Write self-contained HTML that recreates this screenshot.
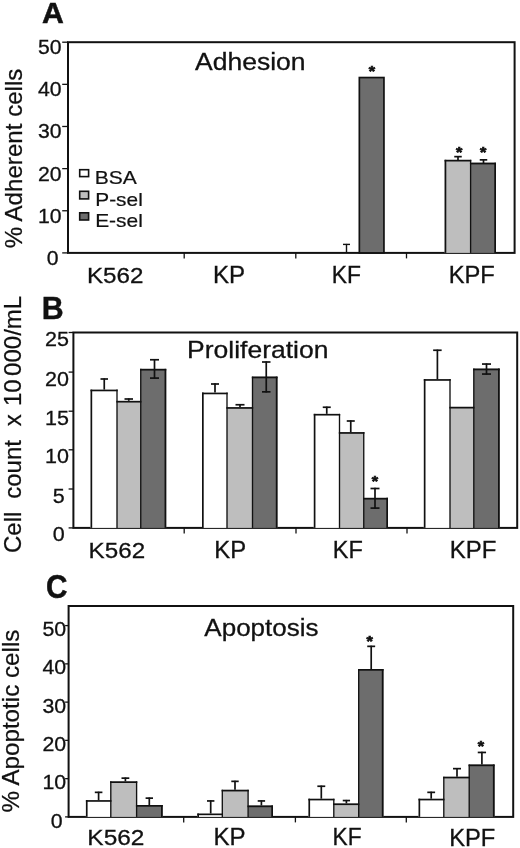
<!DOCTYPE html>
<html><head><meta charset="utf-8"><title>Figure</title>
<style>
html,body{margin:0;padding:0;background:#fff;}
svg{display:block;font-family:'Liberation Sans', sans-serif;}
svg text{fill:#111;stroke:#111;}
</style></head>
<body>
<svg width="520" height="848" viewBox="0 0 520 848">
<rect width="520" height="848" fill="#ffffff"/>
<text transform="translate(42.00,22.65) scale(0.995,1)" font-size="30.40" font-weight="bold" stroke-width="0.5">A</text>
<rect x="68.0" y="42.2" width="446.60" height="210.70" fill="none" stroke="#111" stroke-width="2.0"/>
<line x1="62.20" y1="42.20" x2="68.00" y2="42.20" stroke="#111" stroke-width="1.3"/>
<text transform="translate(61.50,54.20) scale(1.045,1)" font-size="20.30" text-anchor="end" stroke-width="0.3">50</text>
<line x1="62.20" y1="84.34" x2="68.00" y2="84.34" stroke="#111" stroke-width="1.3"/>
<text transform="translate(61.50,96.34) scale(1.045,1)" font-size="20.30" text-anchor="end" stroke-width="0.3">40</text>
<line x1="62.20" y1="126.48" x2="68.00" y2="126.48" stroke="#111" stroke-width="1.3"/>
<text transform="translate(61.50,138.48) scale(1.045,1)" font-size="20.30" text-anchor="end" stroke-width="0.3">30</text>
<line x1="62.20" y1="168.62" x2="68.00" y2="168.62" stroke="#111" stroke-width="1.3"/>
<text transform="translate(61.50,180.62) scale(1.045,1)" font-size="20.30" text-anchor="end" stroke-width="0.3">20</text>
<line x1="62.20" y1="210.76" x2="68.00" y2="210.76" stroke="#111" stroke-width="1.3"/>
<text transform="translate(61.50,222.76) scale(1.045,1)" font-size="20.30" text-anchor="end" stroke-width="0.3">10</text>
<line x1="62.20" y1="252.90" x2="68.00" y2="252.90" stroke="#111" stroke-width="1.3"/>
<text transform="translate(58.60,264.90) scale(1.045,1)" font-size="20.30" text-anchor="end" stroke-width="0.3">0</text>
<line x1="184.20" y1="252.90" x2="184.20" y2="258.40" stroke="#111" stroke-width="1.3"/>
<line x1="295.80" y1="252.90" x2="295.80" y2="258.40" stroke="#111" stroke-width="1.3"/>
<line x1="406.50" y1="252.90" x2="406.50" y2="258.40" stroke="#111" stroke-width="1.3"/>
<text transform="translate(22.15,248.30) scale(1.000,1) rotate(-90)" font-size="24.14" stroke-width="0.25">% Adherent cells</text>
<text transform="translate(195.10,70.40) scale(1.133,1)" font-size="23.39" stroke-width="0.3">Adhesion</text>
<text transform="translate(86.90,283.40) scale(1.060,1)" font-size="22.83" stroke-width="0.3">K562</text>
<text transform="translate(212.97,283.40) scale(1.017,1)" font-size="23.68" stroke-width="0.3">KP</text>
<text transform="translate(331.73,283.40) scale(0.965,1)" font-size="23.68" stroke-width="0.3">KF</text>
<text transform="translate(448.73,283.40) scale(1.002,1)" font-size="23.68" stroke-width="0.3">KPF</text>
<rect x="79.70" y="169.70" width="8.90" height="6.90" fill="#ffffff" stroke="#111" stroke-width="1.6"/>
<rect x="79.70" y="191.30" width="8.90" height="7.60" fill="#bebebe" stroke="#111" stroke-width="1.6"/>
<rect x="79.70" y="212.80" width="8.90" height="7.20" fill="#6d6d6d" stroke="#111" stroke-width="1.6"/>
<text transform="translate(94.65,183.75) scale(1.152,1)" font-size="18.28" stroke-width="0.2">BSA</text>
<text transform="translate(95.28,205.65) scale(1.174,1)" font-size="17.76" stroke-width="0.2">P-sel</text>
<text transform="translate(95.15,227.35) scale(1.135,1)" font-size="18.46" stroke-width="0.2">E-sel</text>
<rect x="359.35" y="77.55" width="24.60" height="175.35" fill="#6d6d6d" stroke="#111" stroke-width="1.7"/>
<text transform="translate(372.00,76.40) scale(1.050,1)" font-size="15.50" text-anchor="middle" font-weight="bold" stroke-width="0.7">*</text>
<line x1="346.50" y1="243.90" x2="346.50" y2="252.90" stroke="#111" stroke-width="1.4"/>
<line x1="343.00" y1="244.40" x2="350.00" y2="244.40" stroke="#111" stroke-width="1.4"/>
<rect x="444.60" y="159.80" width="26.00" height="93.10" fill="#bebebe"/>
<rect x="470.60" y="162.70" width="25.40" height="90.20" fill="#6d6d6d"/>
<line x1="445.45" y1="159.80" x2="445.45" y2="252.90" stroke="#111" stroke-width="1.7"/>
<line x1="495.15" y1="162.70" x2="495.15" y2="252.90" stroke="#111" stroke-width="1.7"/>
<line x1="470.60" y1="159.80" x2="470.60" y2="252.90" stroke="#111" stroke-width="1.35"/>
<line x1="444.60" y1="160.65" x2="471.28" y2="160.65" stroke="#111" stroke-width="1.7"/>
<line x1="469.93" y1="163.55" x2="496.00" y2="163.55" stroke="#111" stroke-width="1.7"/>
<line x1="458.00" y1="156.00" x2="458.00" y2="160.00" stroke="#111" stroke-width="1.7"/>
<line x1="454.25" y1="156.65" x2="461.75" y2="156.65" stroke="#111" stroke-width="1.7"/>
<line x1="483.50" y1="159.20" x2="483.50" y2="163.00" stroke="#111" stroke-width="1.7"/>
<line x1="479.75" y1="159.85" x2="487.25" y2="159.85" stroke="#111" stroke-width="1.7"/>
<text transform="translate(459.20,156.50) scale(1.050,1)" font-size="15.50" text-anchor="middle" font-weight="bold" stroke-width="0.7">*</text>
<text transform="translate(483.20,156.50) scale(1.050,1)" font-size="15.50" text-anchor="middle" font-weight="bold" stroke-width="0.7">*</text>
<text transform="translate(41.75,318.50) scale(0.955,1)" font-size="31.80" font-weight="bold" stroke-width="0.4">B</text>
<rect x="73.4" y="332.5" width="443.80" height="195.40" fill="none" stroke="#111" stroke-width="2.0"/>
<line x1="68.60" y1="332.50" x2="73.40" y2="332.50" stroke="#111" stroke-width="1.3"/>
<text transform="translate(68.90,346.00) scale(1.060,1)" font-size="20.30" text-anchor="end" stroke-width="0.3">25</text>
<line x1="68.60" y1="372.10" x2="73.40" y2="372.10" stroke="#111" stroke-width="1.3"/>
<text transform="translate(68.90,385.60) scale(1.060,1)" font-size="20.30" text-anchor="end" stroke-width="0.3">20</text>
<line x1="68.60" y1="411.20" x2="73.40" y2="411.20" stroke="#111" stroke-width="1.3"/>
<text transform="translate(68.90,424.70) scale(1.060,1)" font-size="20.30" text-anchor="end" stroke-width="0.3">15</text>
<line x1="68.60" y1="449.80" x2="73.40" y2="449.80" stroke="#111" stroke-width="1.3"/>
<text transform="translate(68.90,463.30) scale(1.060,1)" font-size="20.30" text-anchor="end" stroke-width="0.3">10</text>
<line x1="68.60" y1="489.00" x2="73.40" y2="489.00" stroke="#111" stroke-width="1.3"/>
<text transform="translate(64.70,502.50) scale(1.060,1)" font-size="20.30" text-anchor="end" stroke-width="0.3">5</text>
<line x1="68.60" y1="527.90" x2="73.40" y2="527.90" stroke="#111" stroke-width="1.3"/>
<text transform="translate(64.70,541.40) scale(1.060,1)" font-size="20.30" text-anchor="end" stroke-width="0.3">0</text>
<line x1="184.20" y1="527.90" x2="184.20" y2="533.40" stroke="#111" stroke-width="1.3"/>
<line x1="296.00" y1="527.90" x2="296.00" y2="533.40" stroke="#111" stroke-width="1.3"/>
<line x1="407.00" y1="527.90" x2="407.00" y2="533.40" stroke="#111" stroke-width="1.3"/>
<text transform="translate(20.95,553.00) scale(1.000,1) rotate(-90)" font-size="24.00" stroke-width="0.25">Cell</text>
<text transform="translate(20.95,498.80) scale(1.000,1) rotate(-90)" font-size="24.00" stroke-width="0.25">count</text>
<text transform="translate(20.95,426.30) scale(1.000,1) rotate(-90)" font-size="24.00" stroke-width="0.25">x</text>
<text transform="translate(20.95,406.00) scale(1.000,1) rotate(-90)" font-size="24.00" stroke-width="0.25">10</text>
<text transform="translate(20.95,375.90) scale(1.000,1) rotate(-90)" font-size="24.00" stroke-width="0.25">000/mL</text>
<text transform="translate(187.10,357.60) scale(1.113,1)" font-size="23.80" stroke-width="0.3">Proliferation</text>
<text transform="translate(88.60,557.65) scale(1.054,1)" font-size="22.97" stroke-width="0.3">K562</text>
<text transform="translate(214.22,557.65) scale(1.008,1)" font-size="23.68" stroke-width="0.3">KP</text>
<text transform="translate(332.85,557.65) scale(0.992,1)" font-size="23.68" stroke-width="0.3">KF</text>
<text transform="translate(449.85,557.65) scale(1.013,1)" font-size="23.68" stroke-width="0.3">KPF</text>
<rect x="90.50" y="389.60" width="26.50" height="138.30" fill="#ffffff"/>
<rect x="117.00" y="400.85" width="23.75" height="127.05" fill="#bebebe"/>
<rect x="140.75" y="368.85" width="25.50" height="159.05" fill="#6d6d6d"/>
<line x1="91.35" y1="389.60" x2="91.35" y2="527.90" stroke="#111" stroke-width="1.7"/>
<line x1="165.40" y1="368.85" x2="165.40" y2="527.90" stroke="#111" stroke-width="1.7"/>
<line x1="117.00" y1="389.60" x2="117.00" y2="527.90" stroke="#111" stroke-width="1.35"/>
<line x1="140.75" y1="368.85" x2="140.75" y2="527.90" stroke="#111" stroke-width="1.35"/>
<line x1="90.50" y1="390.45" x2="117.67" y2="390.45" stroke="#111" stroke-width="1.7"/>
<line x1="116.33" y1="401.70" x2="141.43" y2="401.70" stroke="#111" stroke-width="1.7"/>
<line x1="140.07" y1="369.70" x2="166.25" y2="369.70" stroke="#111" stroke-width="1.7"/>
<line x1="104.25" y1="378.35" x2="104.25" y2="389.60" stroke="#111" stroke-width="1.7"/>
<line x1="100.50" y1="379.00" x2="108.00" y2="379.00" stroke="#111" stroke-width="1.7"/>
<line x1="128.75" y1="398.35" x2="128.75" y2="400.85" stroke="#111" stroke-width="1.7"/>
<line x1="124.50" y1="399.00" x2="133.00" y2="399.00" stroke="#111" stroke-width="1.7"/>
<line x1="154.50" y1="359.10" x2="154.50" y2="378.75" stroke="#111" stroke-width="1.7"/>
<line x1="150.00" y1="359.75" x2="159.00" y2="359.75" stroke="#111" stroke-width="1.7"/>
<line x1="150.00" y1="378.10" x2="159.00" y2="378.10" stroke="#111" stroke-width="1.7"/>
<rect x="202.00" y="392.60" width="25.00" height="135.30" fill="#ffffff"/>
<rect x="227.00" y="407.10" width="25.50" height="120.80" fill="#bebebe"/>
<rect x="252.50" y="376.60" width="25.00" height="151.30" fill="#6d6d6d"/>
<line x1="202.85" y1="392.60" x2="202.85" y2="527.90" stroke="#111" stroke-width="1.7"/>
<line x1="276.65" y1="376.60" x2="276.65" y2="527.90" stroke="#111" stroke-width="1.7"/>
<line x1="227.00" y1="392.60" x2="227.00" y2="527.90" stroke="#111" stroke-width="1.35"/>
<line x1="252.50" y1="376.60" x2="252.50" y2="527.90" stroke="#111" stroke-width="1.35"/>
<line x1="202.00" y1="393.45" x2="227.68" y2="393.45" stroke="#111" stroke-width="1.7"/>
<line x1="226.32" y1="407.95" x2="253.18" y2="407.95" stroke="#111" stroke-width="1.7"/>
<line x1="251.82" y1="377.45" x2="277.50" y2="377.45" stroke="#111" stroke-width="1.7"/>
<line x1="215.00" y1="383.35" x2="215.00" y2="392.60" stroke="#111" stroke-width="1.7"/>
<line x1="211.00" y1="384.00" x2="219.00" y2="384.00" stroke="#111" stroke-width="1.7"/>
<line x1="240.00" y1="404.10" x2="240.00" y2="407.10" stroke="#111" stroke-width="1.7"/>
<line x1="235.50" y1="404.75" x2="244.50" y2="404.75" stroke="#111" stroke-width="1.7"/>
<line x1="266.25" y1="361.35" x2="266.25" y2="392.50" stroke="#111" stroke-width="1.7"/>
<line x1="262.00" y1="362.00" x2="270.50" y2="362.00" stroke="#111" stroke-width="1.7"/>
<line x1="262.00" y1="391.85" x2="270.50" y2="391.85" stroke="#111" stroke-width="1.7"/>
<rect x="313.75" y="413.85" width="25.75" height="114.05" fill="#ffffff"/>
<rect x="339.50" y="432.10" width="24.25" height="95.80" fill="#bebebe"/>
<rect x="363.75" y="497.85" width="24.25" height="30.05" fill="#6d6d6d"/>
<line x1="314.60" y1="413.85" x2="314.60" y2="527.90" stroke="#111" stroke-width="1.7"/>
<line x1="387.15" y1="497.85" x2="387.15" y2="527.90" stroke="#111" stroke-width="1.7"/>
<line x1="339.50" y1="413.85" x2="339.50" y2="527.90" stroke="#111" stroke-width="1.35"/>
<line x1="363.75" y1="432.10" x2="363.75" y2="527.90" stroke="#111" stroke-width="1.35"/>
<line x1="313.75" y1="414.70" x2="340.18" y2="414.70" stroke="#111" stroke-width="1.7"/>
<line x1="338.82" y1="432.95" x2="364.43" y2="432.95" stroke="#111" stroke-width="1.7"/>
<line x1="363.07" y1="498.70" x2="388.00" y2="498.70" stroke="#111" stroke-width="1.7"/>
<line x1="326.75" y1="406.60" x2="326.75" y2="413.85" stroke="#111" stroke-width="1.7"/>
<line x1="322.75" y1="407.25" x2="330.75" y2="407.25" stroke="#111" stroke-width="1.7"/>
<line x1="350.75" y1="420.35" x2="350.75" y2="432.10" stroke="#111" stroke-width="1.7"/>
<line x1="346.75" y1="421.00" x2="354.75" y2="421.00" stroke="#111" stroke-width="1.7"/>
<line x1="375.00" y1="487.85" x2="375.00" y2="508.75" stroke="#111" stroke-width="1.7"/>
<line x1="370.50" y1="488.50" x2="379.50" y2="488.50" stroke="#111" stroke-width="1.7"/>
<line x1="370.50" y1="508.10" x2="379.50" y2="508.10" stroke="#111" stroke-width="1.7"/>
<text transform="translate(375.00,485.80) scale(1.050,1)" font-size="15.50" text-anchor="middle" font-weight="bold" stroke-width="0.7">*</text>
<rect x="423.80" y="379.10" width="26.20" height="148.80" fill="#ffffff"/>
<rect x="450.00" y="406.80" width="23.80" height="121.10" fill="#bebebe"/>
<rect x="473.80" y="368.60" width="25.90" height="159.30" fill="#6d6d6d"/>
<line x1="424.65" y1="379.10" x2="424.65" y2="527.90" stroke="#111" stroke-width="1.7"/>
<line x1="498.85" y1="368.60" x2="498.85" y2="527.90" stroke="#111" stroke-width="1.7"/>
<line x1="450.00" y1="379.10" x2="450.00" y2="527.90" stroke="#111" stroke-width="1.35"/>
<line x1="473.80" y1="368.60" x2="473.80" y2="527.90" stroke="#111" stroke-width="1.35"/>
<line x1="423.80" y1="379.95" x2="450.68" y2="379.95" stroke="#111" stroke-width="1.7"/>
<line x1="449.32" y1="407.65" x2="474.48" y2="407.65" stroke="#111" stroke-width="1.7"/>
<line x1="473.12" y1="369.45" x2="499.70" y2="369.45" stroke="#111" stroke-width="1.7"/>
<line x1="437.40" y1="349.60" x2="437.40" y2="379.10" stroke="#111" stroke-width="1.7"/>
<line x1="433.15" y1="350.25" x2="441.65" y2="350.25" stroke="#111" stroke-width="1.7"/>
<line x1="486.50" y1="363.40" x2="486.50" y2="374.70" stroke="#111" stroke-width="1.7"/>
<line x1="482.00" y1="364.05" x2="491.00" y2="364.05" stroke="#111" stroke-width="1.7"/>
<line x1="482.00" y1="374.05" x2="491.00" y2="374.05" stroke="#111" stroke-width="1.7"/>
<text transform="translate(45.90,597.70) scale(0.900,1)" font-size="33.00" font-weight="bold" stroke-width="0.5">C</text>
<rect x="68.6" y="606.0" width="444.60" height="210.90" fill="none" stroke="#111" stroke-width="2.0"/>
<line x1="65.10" y1="625.60" x2="68.60" y2="625.60" stroke="#111" stroke-width="1.3"/>
<text transform="translate(66.20,636.20) scale(1.050,1)" font-size="20.30" text-anchor="end" stroke-width="0.3">50</text>
<line x1="65.10" y1="663.86" x2="68.60" y2="663.86" stroke="#111" stroke-width="1.3"/>
<text transform="translate(66.20,674.46) scale(1.050,1)" font-size="20.30" text-anchor="end" stroke-width="0.3">40</text>
<line x1="65.10" y1="702.12" x2="68.60" y2="702.12" stroke="#111" stroke-width="1.3"/>
<text transform="translate(66.20,712.72) scale(1.050,1)" font-size="20.30" text-anchor="end" stroke-width="0.3">30</text>
<line x1="65.10" y1="740.38" x2="68.60" y2="740.38" stroke="#111" stroke-width="1.3"/>
<text transform="translate(66.20,750.98) scale(1.050,1)" font-size="20.30" text-anchor="end" stroke-width="0.3">20</text>
<line x1="65.10" y1="778.64" x2="68.60" y2="778.64" stroke="#111" stroke-width="1.3"/>
<text transform="translate(66.20,789.24) scale(1.050,1)" font-size="20.30" text-anchor="end" stroke-width="0.3">10</text>
<line x1="65.10" y1="816.90" x2="68.60" y2="816.90" stroke="#111" stroke-width="1.3"/>
<text transform="translate(62.60,827.50) scale(1.050,1)" font-size="20.30" text-anchor="end" stroke-width="0.3">0</text>
<line x1="183.70" y1="816.90" x2="183.70" y2="822.40" stroke="#111" stroke-width="1.3"/>
<line x1="295.40" y1="816.90" x2="295.40" y2="822.40" stroke="#111" stroke-width="1.3"/>
<line x1="406.30" y1="816.90" x2="406.30" y2="822.40" stroke="#111" stroke-width="1.3"/>
<text transform="translate(18.85,812.52) scale(0.967,1) rotate(-90)" font-size="24.20" stroke-width="0.25">% Apoptotic cells</text>
<text transform="translate(204.35,635.65) scale(1.085,1)" font-size="23.96" stroke-width="0.3">Apoptosis</text>
<text transform="translate(87.35,844.90) scale(1.064,1)" font-size="22.97" stroke-width="0.3">K562</text>
<text transform="translate(213.47,845.15) scale(1.035,1)" font-size="23.33" stroke-width="0.3">KP</text>
<text transform="translate(332.48,845.15) scale(0.974,1)" font-size="23.33" stroke-width="0.3">KF</text>
<text transform="translate(449.23,845.90) scale(1.002,1)" font-size="23.68" stroke-width="0.3">KPF</text>
<rect x="85.90" y="800.10" width="24.90" height="16.80" fill="#ffffff"/>
<rect x="110.80" y="781.30" width="25.80" height="35.60" fill="#bebebe"/>
<rect x="136.60" y="805.00" width="26.10" height="11.90" fill="#6d6d6d"/>
<line x1="86.75" y1="800.10" x2="86.75" y2="816.90" stroke="#111" stroke-width="1.7"/>
<line x1="161.85" y1="805.00" x2="161.85" y2="816.90" stroke="#111" stroke-width="1.7"/>
<line x1="110.80" y1="781.30" x2="110.80" y2="816.90" stroke="#111" stroke-width="1.35"/>
<line x1="136.60" y1="781.30" x2="136.60" y2="816.90" stroke="#111" stroke-width="1.35"/>
<line x1="85.90" y1="800.95" x2="111.47" y2="800.95" stroke="#111" stroke-width="1.7"/>
<line x1="110.12" y1="782.15" x2="137.28" y2="782.15" stroke="#111" stroke-width="1.7"/>
<line x1="135.92" y1="805.85" x2="162.70" y2="805.85" stroke="#111" stroke-width="1.7"/>
<line x1="98.60" y1="791.70" x2="98.60" y2="800.10" stroke="#111" stroke-width="1.7"/>
<line x1="94.80" y1="792.35" x2="102.40" y2="792.35" stroke="#111" stroke-width="1.7"/>
<line x1="125.40" y1="777.50" x2="125.40" y2="781.30" stroke="#111" stroke-width="1.7"/>
<line x1="121.50" y1="778.15" x2="129.30" y2="778.15" stroke="#111" stroke-width="1.7"/>
<line x1="149.30" y1="797.50" x2="149.30" y2="805.00" stroke="#111" stroke-width="1.7"/>
<line x1="145.60" y1="798.15" x2="153.00" y2="798.15" stroke="#111" stroke-width="1.7"/>
<rect x="197.30" y="813.50" width="25.00" height="3.40" fill="#ffffff"/>
<rect x="222.30" y="789.75" width="25.80" height="27.15" fill="#bebebe"/>
<rect x="248.10" y="805.50" width="24.90" height="11.40" fill="#6d6d6d"/>
<line x1="198.15" y1="813.50" x2="198.15" y2="816.90" stroke="#111" stroke-width="1.7"/>
<line x1="272.15" y1="805.50" x2="272.15" y2="816.90" stroke="#111" stroke-width="1.7"/>
<line x1="222.30" y1="789.75" x2="222.30" y2="816.90" stroke="#111" stroke-width="1.35"/>
<line x1="248.10" y1="789.75" x2="248.10" y2="816.90" stroke="#111" stroke-width="1.35"/>
<line x1="197.30" y1="814.35" x2="222.98" y2="814.35" stroke="#111" stroke-width="1.7"/>
<line x1="221.62" y1="790.60" x2="248.78" y2="790.60" stroke="#111" stroke-width="1.7"/>
<line x1="247.42" y1="806.35" x2="273.00" y2="806.35" stroke="#111" stroke-width="1.7"/>
<line x1="210.70" y1="800.30" x2="210.70" y2="813.50" stroke="#111" stroke-width="1.7"/>
<line x1="207.00" y1="800.95" x2="214.40" y2="800.95" stroke="#111" stroke-width="1.7"/>
<line x1="235.00" y1="780.70" x2="235.00" y2="789.75" stroke="#111" stroke-width="1.7"/>
<line x1="231.30" y1="781.35" x2="238.70" y2="781.35" stroke="#111" stroke-width="1.7"/>
<line x1="261.40" y1="800.30" x2="261.40" y2="805.50" stroke="#111" stroke-width="1.7"/>
<line x1="257.70" y1="800.95" x2="265.10" y2="800.95" stroke="#111" stroke-width="1.7"/>
<rect x="308.40" y="798.70" width="25.40" height="18.20" fill="#ffffff"/>
<rect x="333.80" y="803.40" width="24.90" height="13.50" fill="#bebebe"/>
<rect x="358.70" y="669.00" width="24.80" height="147.90" fill="#6d6d6d"/>
<line x1="309.25" y1="798.70" x2="309.25" y2="816.90" stroke="#111" stroke-width="1.7"/>
<line x1="382.65" y1="669.00" x2="382.65" y2="816.90" stroke="#111" stroke-width="1.7"/>
<line x1="333.80" y1="798.70" x2="333.80" y2="816.90" stroke="#111" stroke-width="1.35"/>
<line x1="358.70" y1="669.00" x2="358.70" y2="816.90" stroke="#111" stroke-width="1.35"/>
<line x1="308.40" y1="799.55" x2="334.48" y2="799.55" stroke="#111" stroke-width="1.7"/>
<line x1="333.12" y1="804.25" x2="359.38" y2="804.25" stroke="#111" stroke-width="1.7"/>
<line x1="358.02" y1="669.85" x2="383.50" y2="669.85" stroke="#111" stroke-width="1.7"/>
<line x1="321.30" y1="785.60" x2="321.30" y2="798.70" stroke="#111" stroke-width="1.7"/>
<line x1="317.35" y1="786.25" x2="325.25" y2="786.25" stroke="#111" stroke-width="1.7"/>
<line x1="346.40" y1="799.90" x2="346.40" y2="803.40" stroke="#111" stroke-width="1.7"/>
<line x1="342.75" y1="800.55" x2="350.05" y2="800.55" stroke="#111" stroke-width="1.7"/>
<line x1="371.20" y1="645.70" x2="371.20" y2="669.00" stroke="#111" stroke-width="1.7"/>
<line x1="367.25" y1="646.35" x2="375.15" y2="646.35" stroke="#111" stroke-width="1.7"/>
<text transform="translate(369.60,645.60) scale(1.050,1)" font-size="15.50" text-anchor="middle" font-weight="bold" stroke-width="0.7">*</text>
<rect x="418.50" y="798.70" width="25.30" height="18.20" fill="#ffffff"/>
<rect x="443.80" y="776.70" width="25.40" height="40.20" fill="#bebebe"/>
<rect x="469.20" y="764.50" width="25.40" height="52.40" fill="#6d6d6d"/>
<line x1="419.35" y1="798.70" x2="419.35" y2="816.90" stroke="#111" stroke-width="1.7"/>
<line x1="493.75" y1="764.50" x2="493.75" y2="816.90" stroke="#111" stroke-width="1.7"/>
<line x1="443.80" y1="776.70" x2="443.80" y2="816.90" stroke="#111" stroke-width="1.35"/>
<line x1="469.20" y1="764.50" x2="469.20" y2="816.90" stroke="#111" stroke-width="1.35"/>
<line x1="418.50" y1="799.55" x2="444.48" y2="799.55" stroke="#111" stroke-width="1.7"/>
<line x1="443.12" y1="777.55" x2="469.88" y2="777.55" stroke="#111" stroke-width="1.7"/>
<line x1="468.52" y1="765.35" x2="494.60" y2="765.35" stroke="#111" stroke-width="1.7"/>
<line x1="431.20" y1="791.70" x2="431.20" y2="798.70" stroke="#111" stroke-width="1.7"/>
<line x1="427.30" y1="792.35" x2="435.10" y2="792.35" stroke="#111" stroke-width="1.7"/>
<line x1="457.00" y1="768.00" x2="457.00" y2="776.70" stroke="#111" stroke-width="1.7"/>
<line x1="453.00" y1="768.65" x2="461.00" y2="768.65" stroke="#111" stroke-width="1.7"/>
<line x1="481.90" y1="751.80" x2="481.90" y2="764.50" stroke="#111" stroke-width="1.7"/>
<line x1="477.75" y1="752.45" x2="486.05" y2="752.45" stroke="#111" stroke-width="1.7"/>
<text transform="translate(480.90,750.70) scale(1.050,1)" font-size="15.50" text-anchor="middle" font-weight="bold" stroke-width="0.7">*</text>
</svg>
</body></html>
